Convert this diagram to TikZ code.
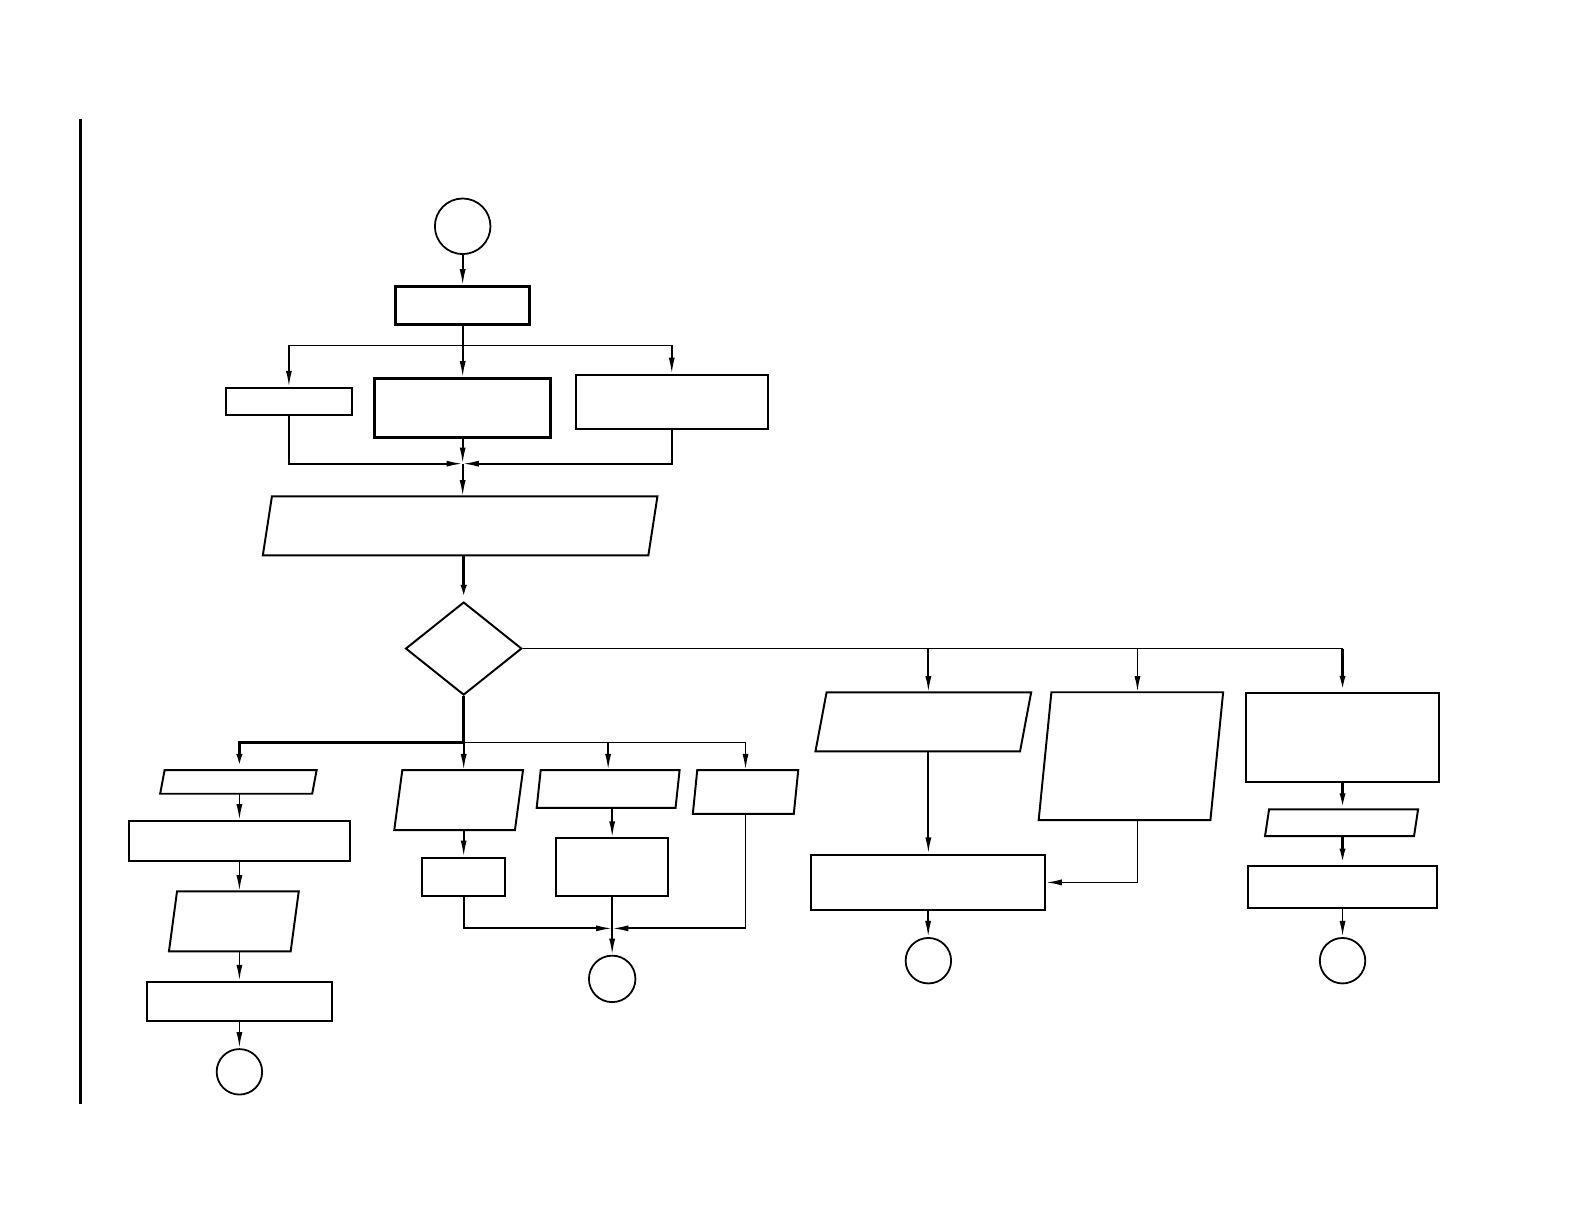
\documentclass[tikz,border=0pt]{standalone}
\usetikzlibrary{shapes.geometric,arrows.meta}
\begin{document}
\begin{tikzpicture}[
  x=0.01cm,y=-0.01cm,
  edge/.style={black,line width=0.5pt},
  arr/.style={edge,-{Latex[length=1.6mm,width=0.6mm]}},
  proc/.style={draw,line width=0.55pt,inner sep=0pt},
  io/.style={inner sep=0pt},
  outline/.style={line width=0.55pt,line join=miter},
  term/.style={draw,circle,line width=0.5pt,inner sep=0pt,minimum size=0.45cm},
  test/.style={draw,diamond,line width=0.55pt,inner sep=0pt,minimum width=1.15cm,minimum height=0.92cm}
]
  \useasboundingbox (0,0) rectangle (1568,1212);
  \draw[edge,line width=0.8pt] (80,118) -- (80,1093);

  \node[term,minimum size=0.55cm] (start) at (458,224) {};
  \node[proc,line width=0.9pt,minimum width=1.33cm,minimum height=0.37cm] (init) at (458,302.5) {};
  \node[proc,minimum width=1.25cm,minimum height=0.27cm] (optA) at (286,397.5) {};
  \node[proc,line width=0.8pt,minimum width=1.74cm,minimum height=0.58cm] (optB) at (458,404) {};
  \node[proc,minimum width=1.90cm,minimum height=0.54cm] (optC) at (665,398) {};
  \coordinate (split) at (458,342);
  \coordinate (join) at (458,459);
  \node[io,minimum width=3.80cm,minimum height=0.57cm] (input) at (455.5,520.5) {};
  \node[test] (check) at (459,642) {};
  \coordinate (fanL) at (459,735);
  \coordinate (tapE) at (919,642);
  \coordinate (tapF) at (1126,642);
  \coordinate (fanR) at (1329,642);

  \node[io,minimum width=1.49cm,minimum height=0.22cm] (l1) at (236,774) {};
  \node[proc,minimum width=2.19cm,minimum height=0.39cm] (l2) at (237,832.5) {};
  \node[io,minimum width=1.19cm,minimum height=0.58cm] (l3) at (231.5,912) {};
  \node[proc,minimum width=1.83cm,minimum height=0.39cm] (l4) at (237,991.5) {};
  \node[term] (l5) at (237,1061) {};

  \node[io,minimum width=1.18cm,minimum height=0.58cm] (m1) at (454,792) {};
  \node[proc,minimum width=0.82cm,minimum height=0.38cm] (m2) at (459,868) {};
  \node[io,minimum width=1.36cm,minimum height=0.36cm] (n1) at (602,781) {};
  \node[proc,minimum width=1.11cm,minimum height=0.57cm] (n2) at (606,858.5) {};
  \node[io,minimum width=0.985cm,minimum height=0.42cm] (o1) at (738,784) {};
  \coordinate (merge) at (606,919);
  \node[term,minimum size=0.46cm] (endB) at (606,969) {};

  \node[io,minimum width=2.01cm,minimum height=0.57cm] (e1) at (914,714.5) {};
  \node[proc,minimum width=2.31cm,minimum height=0.55cm] (e2) at (918.5,873.5) {};
  \node[term] (endC) at (919,951) {};
  \node[io,minimum width=1.685cm,minimum height=1.25cm] (f1) at (1119.5,748.5) {};
  \node[proc,minimum width=1.91cm,minimum height=0.88cm] (g1) at (1329,730) {};
  \node[io,minimum width=1.46cm,minimum height=0.25cm] (g2) at (1328,814.5) {};
  \node[proc,minimum width=1.87cm,minimum height=0.42cm] (g3) at (1329,878) {};
  \node[term] (endD) at (1329,951) {};

  \foreach \n/\s in {input/0.45,l1/0.22,l3/0.4,m1/0.4,n1/0.2,o1/0.22,e1/0.55,f1/0.63,g2/0.2}
    \draw[outline] ([xshift=\s mm]\n.north west) -- ([xshift=\s mm]\n.north east)
      -- ([xshift=-\s mm]\n.south east) -- ([xshift=-\s mm]\n.south west) -- cycle;

  \draw[arr] (start) -- (init);
  \draw[edge] (init) -- (split);
  \draw[arr] (split) -| (optA);
  \draw[arr] (split) -- (optB);
  \draw[arr] (split) -| (optC);
  \draw[arr] (optA) |- (join);
  \draw[arr] (optC) |- (join);
  \draw[arr] (optB) -- (join);
  \draw[arr] (join) -- (join |- input.north);
  \draw[arr,line width=0.8pt] (check |- input.south) -- (check);
  \draw[edge,line width=0.8pt] (check) -- (fanL);
  \draw[edge] (check) -- (fanR);

  \draw[arr,line width=0.8pt] (fanL) -| (l2 |- l1.north);
  \draw[arr] (l2 |- l1.south) -- (l2);
  \draw[arr] (l2) -- (l2 |- l3.north);
  \draw[arr] (l4 |- l3.south) -- (l4);
  \draw[arr] (l4) -- (l5);

  \draw[arr] (fanL) -- (fanL |- m1.north);
  \draw[arr] (m2 |- m1.south) -- (m2);
  \draw[arr] (fanL) -| (n1);
  \draw[arr] (n2 |- n1.south) -- (n2);
  \draw[arr] (fanL) -| (o1);
  \draw[arr] (m2) |- (merge);
  \draw[arr] (o1) |- (merge);
  \draw[arr] (n2) -- (endB);

  \draw[arr] (tapE) -- (tapE |- e1.north);
  \draw[arr] (tapE |- e1.south) -- (tapE |- e2.north);
  \draw[arr] (e2) -- (endC);
  \draw[arr] (tapF) -- (tapF |- f1.north);
  \draw[arr] (tapF |- f1.south) |- (e2);
  \draw[arr,line width=0.7pt] (fanR) -- (g1);
  \draw[arr,line width=0.7pt] (g1) -- (g1 |- g2.north);
  \draw[arr,line width=0.7pt] (g1 |- g2.south) -- (g3);
  \draw[arr] (g3) -- (endD);
\end{tikzpicture}
\end{document}
